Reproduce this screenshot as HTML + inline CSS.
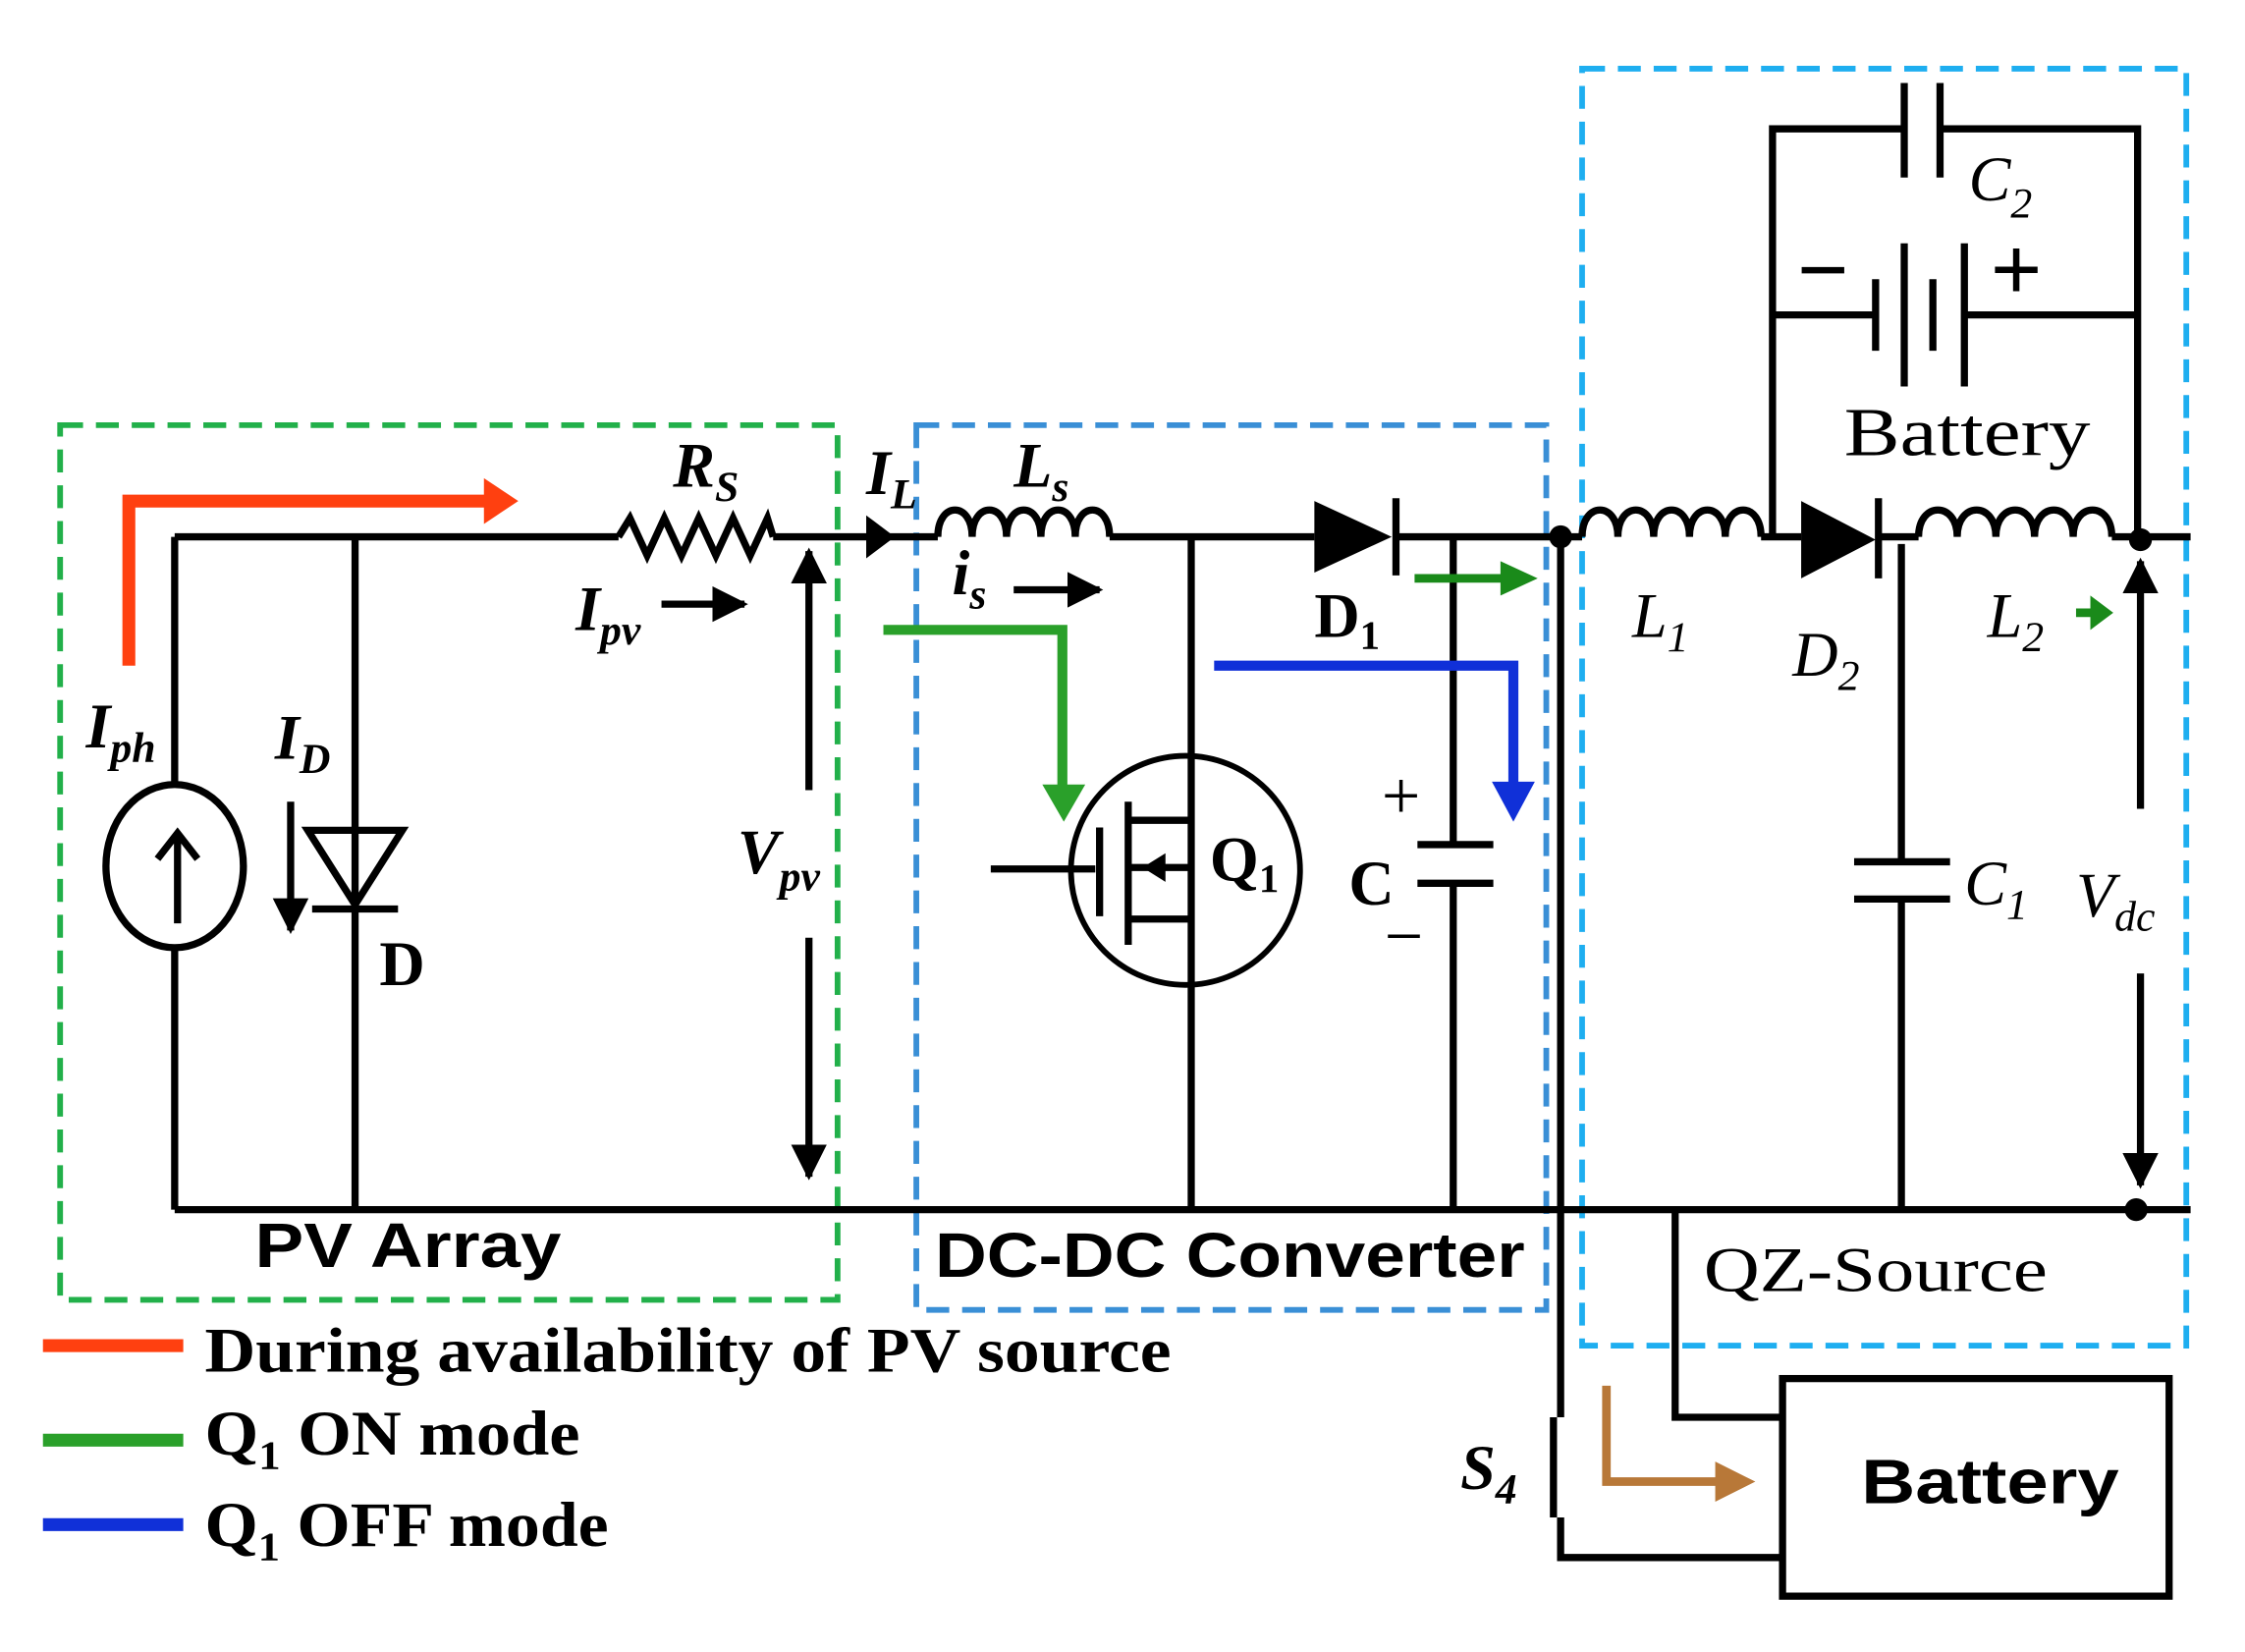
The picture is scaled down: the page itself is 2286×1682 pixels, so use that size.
<!DOCTYPE html>
<html><head><meta charset="utf-8"><style>
html,body{margin:0;padding:0;background:#fff;}
svg{display:block;}
text{font-family:"Liberation Serif",serif;}
.i{font-style:italic;font-weight:bold;}
</style></head><body>
<svg width="2286" height="1682" viewBox="0 0 1568 1154" preserveAspectRatio="none" xmlns="http://www.w3.org/2000/svg">
<defs>
<marker id="ah" viewBox="0 0 10 10" refX="9" refY="5" markerWidth="5" markerHeight="5" orient="auto-start-reverse"><path d="M0,0L10,5L0,10z" fill="#000"/></marker>
</defs>
<rect width="1568" height="1154" fill="#fff"/>
<rect x="42" y="297" width="543" height="611" fill="none" stroke="#22b04a" stroke-width="4" stroke-dasharray="16,9"/>
<rect x="640" y="297" width="440" height="618" fill="none" stroke="#3a8fd6" stroke-width="4" stroke-dasharray="16,9"/>
<rect x="1105" y="48" width="422" height="892" fill="none" stroke="#1eaef0" stroke-width="4" stroke-dasharray="16,9"/>
<g stroke="#000" stroke-width="5" fill="none">
<path d="M122,375H432M540,375H655M775,375H918M975,375H1105M1230,375H1258M1310,375H1340M1475,375H1530"/>
<path d="M122,845H1530"/>
<path d="M122,375V548M122,662V845"/>
<ellipse cx="122" cy="605" rx="48" ry="57"/>
<path d="M124,645V585M110,600L124,582L138,600"/>
<path d="M248,375V845M218,635H278"/>
<path d="M215,580H281L248,632Z"/>
<path d="M203,560V650" marker-end="url(#ah)"/>
<path d="M432,375L440,362L452,388L464,362L476,388L488,362L500,388L512,362L524,388L536,362L540,375"/>
<path d="M565,552V385" marker-end="url(#ah)"/>
<path d="M565,655V822" marker-end="url(#ah)"/>
<path d="M462,422H520" marker-end="url(#ah)"/>
<path d="M708,412H768" marker-end="url(#ah)"/>
<path d="M655,375 c0,-25 24,-25 24,0 c0,-25 24,-25 24,0 c0,-25 24,-25 24,0 c0,-25 24,-25 24,0 c0,-25 24,-25 24,0"/>
<path d="M832,375V845"/>
<circle cx="828" cy="608" r="80" stroke-width="4"/>
<path d="M692,607H765M768,578V640M788,560V660M788,573H832M788,606H830M788,642H832"/>
<path d="M1015,375V590M990,590H1043M990,617H1043M1015,617V845"/>
<path d="M1090,375V990M1085,990V1060M1090,1060V1088H1245"/>
<path d="M1105,375 c0,-25 25,-25 25,0 c0,-25 25,-25 25,0 c0,-25 25,-25 25,0 c0,-25 25,-25 25,0 c0,-25 25,-25 25,0"/>
<path d="M1328,380V602M1295,602H1362M1295,628H1362M1328,628V845"/>
<path d="M1340,375 c0,-25 27,-25 27,0 c0,-25 27,-25 27,0 c0,-25 27,-25 27,0 c0,-25 27,-25 27,0 c0,-25 27,-25 27,0"/>
<path d="M1238,375V90H1330M1355,90H1493V375M1330,58V124M1355,58V124"/>
<path d="M1238,220H1310M1372,220H1493M1310,195V245M1330,170V270M1350,195V245M1372,170V270"/>
<path d="M1495,565V392" marker-end="url(#ah)"/>
<path d="M1495,680V828" marker-end="url(#ah)"/>
<path d="M1170,845V990H1245"/>
<rect x="1245" y="963" width="270" height="152"/>
</g>
<path d="M918,350L972,375L918,400Z" fill="#000"/><path d="M975,348V402" stroke="#000" stroke-width="5"/>
<path d="M1258,350L1310,377L1258,404Z" fill="#000"/><path d="M1312,348V404" stroke="#000" stroke-width="5"/>
<path d="M798,606L814,596V616Z" fill="#000"/>
<path d="M605,360L625,375L605,390Z" fill="#000"/>
<circle cx="1090" cy="375" r="8" fill="#000"/>
<circle cx="1495" cy="377" r="8" fill="#000"/>
<circle cx="1492" cy="845" r="8" fill="#000"/>
<path d="M90,465V350H340" stroke="#ff4010" stroke-width="9" fill="none"/>
<path d="M338,334L362,350L338,366Z" fill="#ff4010"/>
<path d="M617,440H742V550" stroke="#2aa02a" stroke-width="7" fill="none"/>
<path d="M728,548L743,574L758,548Z" fill="#2aa02a"/>
<path d="M848,465H1057V548" stroke="#1030d8" stroke-width="7" fill="none"/>
<path d="M1042,546L1057,574L1072,546Z" fill="#1030d8"/>
<path d="M988,404H1050" stroke="#1a8a1a" stroke-width="6"/><path d="M1048,392L1074,404L1048,416Z" fill="#1a8a1a"/>
<path d="M1450,428H1462" stroke="#1a8a1a" stroke-width="6"/><path d="M1460,416L1476,428L1460,440Z" fill="#1a8a1a"/>
<path d="M1122,968V1035H1200" stroke="#b87838" stroke-width="6" fill="none"/>
<path d="M1198,1021L1226,1035L1198,1049Z" fill="#b87838"/>
<path d="M30,940H128" stroke="#ff4010" stroke-width="9"/>
<path d="M30,1006H128" stroke="#2aa02a" stroke-width="9"/>
<path d="M30,1065H128" stroke="#1030d8" stroke-width="9"/>
<g font-weight="bold" font-size="44" fill="#000">
<text x="143" y="958" textLength="675" lengthAdjust="spacingAndGlyphs">During availability of PV source</text>
<text x="143" y="1016" textLength="262" lengthAdjust="spacingAndGlyphs">Q<tspan font-size="28" dy="10">1</tspan><tspan dy="-10"> ON mode</tspan></text>
<text x="143" y="1080" textLength="282" lengthAdjust="spacingAndGlyphs">Q<tspan font-size="28" dy="10">1</tspan><tspan dy="-10"> OFF mode</tspan></text>
</g>
<g fill="#000" font-size="44">
<text class="i" x="470" y="340">R<tspan font-size="30" dy="10">S</tspan></text>
<text class="i" x="605" y="345">I<tspan font-size="30" dy="10">L</tspan></text>
<text class="i" x="708" y="340">L<tspan font-size="30" dy="10">s</tspan></text>
<text class="i" x="402" y="440">I<tspan font-size="30" dy="10">pv</tspan></text>
<text class="i" x="665" y="415">i<tspan font-size="30" dy="10">s</tspan></text>
<text class="i" x="60" y="522">I<tspan font-size="30" dy="10">ph</tspan></text>
<text class="i" x="192" y="530">I<tspan font-size="30" dy="10">D</tspan></text>
<text font-weight="bold" x="265" y="688">D</text>
<text class="i" x="515" y="610">V<tspan font-size="30" dy="12">pv</tspan></text>
<text font-weight="bold" x="918" y="445">D<tspan font-size="28" dy="8">1</tspan></text>
<text font-weight="bold" x="845" y="615">Q<tspan font-size="28" dy="8">1</tspan></text>
<text font-weight="bold" x="942" y="632">C</text>
<text x="965" y="572" font-size="48">+</text>
<text x="967" y="670" font-size="48">−</text>
<text font-style="italic" x="1140" y="445">L<tspan font-size="30" dy="10">1</tspan></text>
<text font-style="italic" x="1252" y="472">D<tspan font-size="30" dy="10">2</tspan></text>
<text font-style="italic" x="1388" y="445">L<tspan font-size="30" dy="10">2</tspan></text>
<text font-style="italic" x="1372" y="632">C<tspan font-size="30" dy="10">1</tspan></text>
<text font-style="italic" x="1450" y="640">V<tspan font-size="30" dy="10">dc</tspan></text>
<text font-style="italic" x="1375" y="140">C<tspan font-size="30" dy="12">2</tspan></text>
<text x="1255" y="210" font-size="64" font-weight="bold">−</text>
<text x="1390" y="210" font-size="64" font-weight="bold">+</text>
<text x="1288" y="318" font-size="48" textLength="172" lengthAdjust="spacingAndGlyphs">Battery</text>
<text x="1190" y="902" font-size="44" textLength="240" lengthAdjust="spacingAndGlyphs">QZ-Source</text>
<text class="i" x="1020" y="1040">S<tspan font-size="30" dy="10">4</tspan></text>
</g>
<g font-weight="bold" fill="#000">
<text x="178" y="885" font-size="44" textLength="214" lengthAdjust="spacingAndGlyphs" style="font-family:'Liberation Sans',sans-serif">PV Array</text>
<text x="653" y="892" font-size="44" textLength="412" lengthAdjust="spacingAndGlyphs" style="font-family:'Liberation Sans',sans-serif">DC-DC Converter</text>
<text x="1300" y="1050" font-size="44" textLength="180" lengthAdjust="spacingAndGlyphs" style="font-family:'Liberation Sans',sans-serif">Battery</text>
</g>
</svg>
</body></html>
